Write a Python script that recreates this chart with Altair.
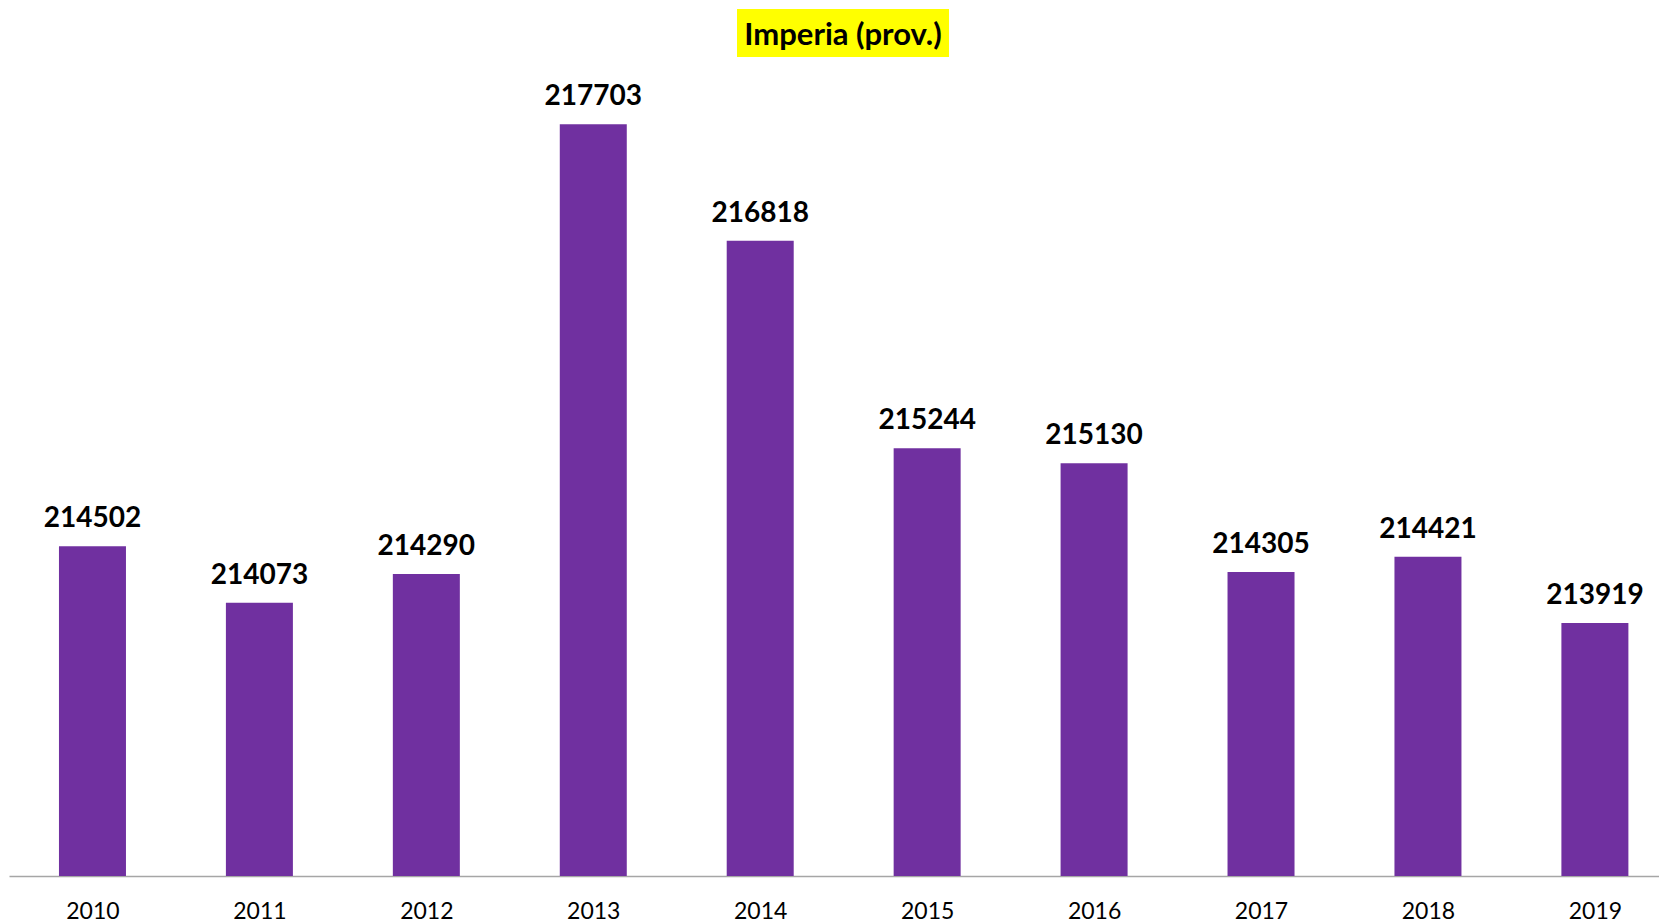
import altair as alt
import pandas as pd

years = [2010, 2011, 2012, 2013, 2014, 2015, 2016, 2017, 2018, 2019]
values = [214502, 214073, 214290, 217703, 216818, 215244, 215130, 214305, 214421, 213919]
title_text = "Imperia (prov.)"

df = pd.DataFrame({"year": years, "value": values})
FONT = "Lato"
PURPLE = "#7030A0"

x = alt.X("year:Q",
          scale=alt.Scale(domain=[2009.5, 2019.384], nice=False, zero=False, padding=0),
          axis=alt.Axis(values=years, format="d", title=None, ticks=False, grid=False,
                        domainColor="#a6a6a6", domainWidth=1.5,
                        labelFont=FONT, labelFontSize=23, labelColor="#000000",
                        labelPadding=24, labelFlush=False))
y = alt.Y("value:Q", scale=alt.Scale(domain=[212000, 218000], nice=False, zero=False),
          axis=None)

base = alt.Chart(df)
bars = base.mark_bar(color=PURPLE, size=67, clip=True).encode(
    x=x, y=y, y2=alt.datum(212000))
labels = base.mark_text(font=FONT, fontSize=28, fontWeight="bold", color="#000000",
                        baseline="alphabetic", dy=-19).encode(
    x=x, y=y, text=alt.Text("value:Q", format="d"))

tdf = pd.DataFrame({"t": [title_text]})
title_box = alt.Chart(tdf).mark_rect(color="#FFFF00").encode(
    x=alt.value(728), x2=alt.value(940), y=alt.value(-76), y2=alt.value(-28))
title_lbl = alt.Chart(tdf).mark_text(font=FONT, fontSize=31, fontWeight="bold",
                                     color="#000000", baseline="middle", align="center").encode(
    x=alt.value(834), y=alt.value(-49), text="t:N")

chart = alt.layer(bars, labels, title_box, title_lbl).properties(
    width=1650, height=791,
    autosize=alt.AutoSizeParams(type="none"),
    padding={"left": 1, "top": 77, "right": 0, "bottom": 47},
).configure_view(stroke=None)

chart.save("out.html", embed_options={"renderer": "svg", "actions": False})
